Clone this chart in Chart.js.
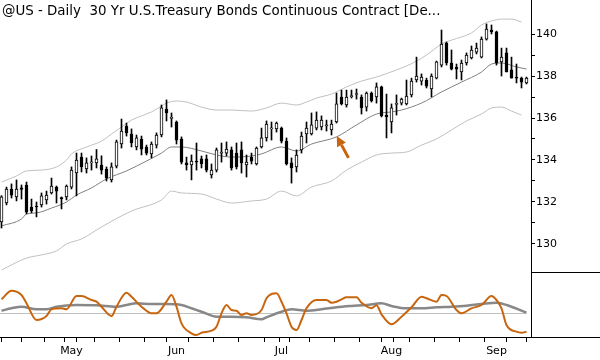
<!DOCTYPE html>
<html>
<head>
<meta charset="utf-8">
<script src="https://cdn.jsdelivr.net/npm/chart.js@4"></script>
<style>
  html, body { margin: 0; padding: 0; background: #fff; }
  #wrap { width: 600px; height: 360px; }
</style>
</head>
<body>
<div id="wrap"><canvas id="chart" width="600" height="360"></canvas></div>
<script>
// daily bars, Apr 10 - Sep 10 2014 (trading days only)
const days = [
  '04-10','04-11','04-14','04-15','04-16','04-17','04-21','04-22','04-23','04-24','04-25','04-28','04-29','04-30',
  '05-01','05-02','05-05','05-06','05-07','05-08','05-09','05-12','05-13','05-14','05-15','05-16',
  '05-19','05-20','05-21','05-22','05-23','05-27','05-28','05-29','05-30',
  '06-02','06-03','06-04','06-05','06-06','06-09','06-10','06-11','06-12','06-13',
  '06-16','06-17','06-18','06-19','06-20','06-23','06-24','06-25','06-26','06-27','06-30',
  '07-01','07-02','07-03','07-07','07-08','07-09','07-10','07-11','07-14','07-15','07-16','07-17','07-18',
  '07-21','07-22','07-23','07-24','07-25','07-28','07-29','07-30','07-31',
  '08-01','08-04','08-05','08-06','08-07','08-08','08-11','08-12','08-13','08-14','08-15',
  '08-18','08-19','08-20','08-21','08-22','08-25','08-26','08-27','08-28','08-29',
  '09-02','09-03','09-04','09-05','09-08','09-09','09-10'
];

const open = [131.05,131.95,132.62,132.24,132.67,132.81,131.76,131.8,131.86,132.1,132.43,132.71,132.2,132.24,
  132.71,133.38,134.14,133.57,133.86,133.86,133.76,133.57,133.05,133.71,134.76,135.62,135.24,134.62,135.0,134.62,
  134.29,134.71,135.19,136.43,135.98,135.81,135.0,133.86,133.76,133.95,134.05,134.05,133.29,133.52,134.33,134.33,
  134.48,134.33,134.48,133.76,134.14,133.81,134.62,135.05,135.48,135.48,135.52,134.9,133.86,133.67,134.48,135.24,
  135.24,135.52,135.57,135.62,135.43,135.81,137.0,136.62,137.02,137.12,137.0,136.52,137.19,137.0,137.48,136.14,
  135.81,136.65,136.71,136.67,137.1,137.81,137.76,137.81,137.38,137.9,138.52,139.57,138.62,138.43,138.19,138.62,
  138.86,139.14,138.9,139.76,140.19,140.1,138.67,139.1,138.29,137.95,137.9,137.67];
const high = [132.3,132.71,132.86,133.05,132.81,132.95,132.14,132.0,132.43,132.52,133.14,132.76,132.24,132.81,
  133.67,134.33,134.33,134.1,134.19,134.5,134.2,133.67,133.86,134.95,135.95,135.76,135.48,135.19,135.14,134.71,
  134.86,135.29,136.62,136.86,136.24,135.86,135.1,134.14,134.24,134.81,134.19,134.24,133.81,134.57,134.81,134.86,
  134.62,134.81,134.86,134.24,134.33,134.62,135.52,135.86,135.81,135.81,135.57,135.05,134.1,134.48,135.33,135.81,
  136.24,136.29,136.1,135.9,135.9,137.19,137.33,137.33,137.33,137.38,137.1,137.24,137.24,137.67,137.52,137.14,
  136.67,137.1,136.95,137.81,137.9,138.9,138.1,137.9,138.1,138.71,140.19,139.62,139.24,138.57,138.76,139.1,
  139.43,139.57,139.86,140.48,140.43,140.14,139.33,139.33,138.9,138.57,137.95,137.95];
const low = [130.76,131.86,132.19,132.05,132.14,131.43,131.48,131.29,131.76,131.9,132.38,131.95,131.67,132.1,
  132.62,132.29,133.43,133.38,133.52,133.62,133.33,133.0,132.95,133.62,134.57,135.14,134.62,134.48,134.24,134.24,
  134.1,134.57,135.1,135.86,135.57,134.76,133.81,133.52,133.05,133.52,133.62,133.43,133.14,133.43,133.9,134.19,
  133.52,133.57,133.38,133.19,133.81,133.76,134.57,134.9,134.95,135.33,134.81,133.76,132.9,133.43,134.33,134.81,
  135.19,135.43,135.43,135.38,135.19,135.76,136.62,136.52,136.95,136.9,136.19,136.33,136.76,136.71,136.05,135.05,
  135.29,136.14,136.62,136.62,137.0,137.71,137.57,137.43,137.0,137.86,138.43,138.52,138.29,137.86,137.81,138.52,
  138.81,139.05,138.86,139.71,140.0,138.52,138.0,138.19,137.9,137.67,137.43,137.62];
const close = [132.24,132.62,132.33,132.62,132.6,131.52,131.57,131.76,132.29,132.33,132.76,132.52,132.16,132.76,
  133.52,134.0,133.67,133.86,133.9,134.05,133.52,133.14,133.67,134.86,135.38,135.29,134.81,135.05,134.52,134.33,
  134.76,135.19,136.48,136.24,136.03,134.95,133.9,133.76,133.95,133.9,133.81,133.52,133.52,134.48,134.38,134.52,
  133.62,133.67,133.86,133.9,133.95,134.57,135.05,135.71,135.52,135.76,134.9,133.81,133.62,134.24,135.14,135.52,
  135.67,135.9,135.9,135.67,135.71,136.67,136.67,137.0,137.06,137.16,136.48,137.19,136.81,137.48,136.1,136.05,
  136.48,136.69,136.9,137.05,137.76,138.0,137.95,137.52,138.0,138.67,139.52,138.62,138.33,138.33,138.62,139.0,
  139.24,139.33,139.76,140.24,140.1,138.62,138.9,138.19,137.9,137.9,137.71,137.9];

// channel lines, read at bar positions
const maBar = [0,4,5,7,10,13,15,18,21,25,29,32,34,36,40,43,46,50,52,56,59,62,67,71,75,78,80,84,88,92,96,98,100,103,105];
const ma = [130.86,131.19,131.43,131.48,131.71,132.0,132.33,132.67,133.1,133.48,133.95,134.33,134.62,134.62,134.43,
  134.24,134.14,134.19,134.29,134.62,134.43,134.76,135.1,135.67,136.19,136.29,136.38,136.71,137.24,137.71,138.19,
  138.57,138.62,138.43,138.33];
const upperBar = [0,3,5,8,11,13,14,17,20,22,24,26,28,30,32,33,35,37,40,43,46,50,53,56,59,61,63,66,69,72,75,79,81,83,
  85,88,90,92,94,96,98,100,102,104];
const upper = [132.95,133.24,133.48,133.52,133.67,134.0,134.29,134.62,134.9,135.24,135.57,135.9,136.1,136.29,136.57,
  136.71,136.81,136.76,136.52,136.38,136.38,136.33,136.48,136.71,136.62,136.76,136.95,137.14,137.48,137.76,137.95,
  138.29,138.48,138.71,139.0,139.52,139.71,139.86,140.05,140.43,140.62,140.71,140.71,140.57];
const lowerBar = [0,5,8,11,13,16,20,26,32,34,36,40,43,46,50,53,56,59,62,66,69,72,75,78,81,84,87,90,93,96,98,100,102,104];
const lower = [128.76,129.33,129.48,129.67,130.0,130.24,130.81,131.57,132.1,132.52,132.43,132.38,132.14,131.95,132.05,
  132.14,132.52,132.29,132.71,133.0,133.52,133.9,134.24,134.33,134.38,134.71,135.0,135.43,135.86,136.19,136.48,
  136.52,136.33,136.14];

// lower pane oscillator
const fastBar = [0,2,4,5,7,9,10,12,13,15,16,18,19,20,22,23,25,26,28,30,31,33,34,35,36,38,39,40,42,43,44,45,46,47,48,
  49,50,52,53,54,55,56,57,58,59,60,61,63,65,66,67,68,69,71,72,74,75,76,78,80,82,84,85,87,88,89,91,92,94,96,98,99,
  100,101,103,104,105];
const fast = [14,22.6,18.3,10,-6.7,-2.7,4,5,4,17.3,17.3,13.3,11.6,6.6,-2.7,6.6,20.6,16.6,6.6,0,0,11.6,18.3,6.6,-10,
  -20,-21.7,-19.4,-17.4,-13.4,0,8.3,3.3,2.6,-1.7,0,-1.7,3.3,15,19.3,20,11.6,0,-13.4,-16.7,-6.7,5,13.3,13.3,10.6,11.6,
  14,16,16,10.6,5,8,-1,-11,-3.4,6,16.6,15,11.6,18.3,17.3,3.3,0,5,8.3,17.3,13.3,5,-11.7,-18.4,-19.4,-18.4];
const slowBar = [0,2,4,7,9,11,15,19,23,25,27,30,33,36,38,40,43,46,49,52,53,56,58,61,64,67,70,73,76,78,81,84,87,90,93,
  96,99,102,105];
const slow = [2.6,5,6.6,4,4,6.6,8.3,8,6.6,8.3,10,9.3,9.3,8.3,5,1.6,-3.4,-3.4,-4,-6,-4,1.6,4,2.6,4,6,7.3,8.3,10,7.3,5,
  5,6,6.6,7.6,9.3,10.6,6.6,0.6];

const priceTicks = [130,131,132,133,134,135,136,137,138,139,140];
const monthNames = ['Jan','Feb','Mar','Apr','May','Jun','Jul','Aug','Sep','Oct','Nov','Dec'];
const title = '@US - Daily  30 Yr U.S.Treasury Bonds Continuous Contract [De...';
const arrowTail = { bar: 69.4, price: 134.1 };
const arrowTip = { bar: 67.05, price: 135.14 };

// weekly and monthly tick positions from the dates
const dates = days.map(d => new Date(2014, +d.slice(0, 2) - 1, +d.slice(3)));
const monthAt = {};
const xTicks = [];
dates.forEach((d, i) => {
  if (i === 0) return;
  const prev = dates[i - 1];
  const newMonth = d.getMonth() !== prev.getMonth();
  const newWeek = d.getDay() <= prev.getDay();
  if (newMonth) monthAt[i] = monthNames[d.getMonth()];
  if (newMonth || newWeek) xTicks.push(i);
});

const ORANGE = '#c8650f';
const axisFont = { family: 'DejaVu Sans', size: 11 };
const pts = (xs, ys) => xs.map((x, k) => ({ x: x, y: ys[k] }));
const bars = days.map((d, i) => i);

const extras = {
  id: 'extras',
  beforeDatasetsDraw(chart) {
    const ctx = chart.ctx, a = chart.chartArea;
    const x = chart.scales.x, y2 = chart.scales.y2;
    const zy = Math.round(y2.getPixelForValue(0)) + 0.5;
    ctx.save();
    ctx.strokeStyle = '#c0c0c0';
    ctx.lineWidth = 1;
    ctx.beginPath();
    ctx.moveTo(a.left, zy);
    ctx.lineTo(x.getPixelForValue(days.length - 1), zy);
    ctx.stroke();
    ctx.restore();
  },
  afterDraw(chart) {
    const ctx = chart.ctx, a = chart.chartArea;
    const x = chart.scales.x, y = chart.scales.y;
    ctx.save();
    // frame pieces on the right pane
    ctx.strokeStyle = '#000';
    ctx.lineWidth = 1;
    ctx.beginPath();
    ctx.moveTo(a.right, a.bottom + 0.5);
    ctx.lineTo(chart.width, a.bottom + 0.5);
    ctx.moveTo(a.right, a.bottom - 64.5);
    ctx.lineTo(chart.width, a.bottom - 64.5);
    ctx.stroke();

    // arrow
    const x0 = x.getPixelForValue(arrowTail.bar), y0 = y.getPixelForValue(arrowTail.price);
    const x1 = x.getPixelForValue(arrowTip.bar), y1 = y.getPixelForValue(arrowTip.price);
    const ang = Math.atan2(y1 - y0, x1 - x0);
    const head = 10, hw = 5;
    const bx = x1 - head * Math.cos(ang), by = y1 - head * Math.sin(ang);
    ctx.strokeStyle = ORANGE;
    ctx.fillStyle = ORANGE;
    ctx.lineWidth = 3;
    ctx.beginPath();
    ctx.moveTo(x0, y0);
    ctx.lineTo(bx, by);
    ctx.stroke();
    ctx.beginPath();
    ctx.moveTo(x1, y1);
    ctx.lineTo(bx + hw * Math.sin(ang), by - hw * Math.cos(ang));
    ctx.lineTo(bx - hw * Math.sin(ang), by + hw * Math.cos(ang));
    ctx.closePath();
    ctx.fill();

    // title
    ctx.fillStyle = '#000';
    ctx.font = '13.4px "DejaVu Sans"';
    ctx.textBaseline = 'alphabetic';
    ctx.fillText(title, 2, 15);
    ctx.restore();
  }
};

new Chart(document.getElementById('chart'), {
  type: 'bar',
  data: {
    datasets: [
      {
        label: 'body', order: 1, grouped: false,
        data: bars.map(i => ({ x: i, y: [open[i], close[i]] })),
        backgroundColor: bars.map(i => close[i] >= open[i] ? '#fff' : '#000'),
        borderColor: '#000', borderWidth: 1, borderSkipped: false,
        barThickness: 3, minBarLength: 1
      },
      {
        label: 'wick', order: 2, grouped: false,
        data: bars.map(i => ({ x: i, y: [low[i], high[i]] })),
        backgroundColor: '#000', barThickness: 1
      },
      {
        type: 'line', label: 'ma', order: 3, data: pts(maBar, ma),
        borderColor: '#808080', borderWidth: 1, pointRadius: 0, cubicInterpolationMode: 'monotone'
      },
      {
        type: 'line', label: 'upper', order: 4, data: pts(upperBar, upper),
        borderColor: '#c0c0c0', borderWidth: 1, pointRadius: 0, cubicInterpolationMode: 'monotone'
      },
      {
        type: 'line', label: 'lower', order: 4, data: pts(lowerBar, lower),
        borderColor: '#c0c0c0', borderWidth: 1, pointRadius: 0, cubicInterpolationMode: 'monotone'
      },
      {
        type: 'line', label: 'slow', order: 6, yAxisID: 'y2', data: pts(slowBar, slow),
        borderColor: '#888888', borderWidth: 2.5, pointRadius: 0, cubicInterpolationMode: 'monotone'
      },
      {
        type: 'line', label: 'fast', order: 5, yAxisID: 'y2', data: pts(fastBar, fast),
        borderColor: ORANGE, borderWidth: 2, pointRadius: 0, cubicInterpolationMode: 'monotone'
      }
    ]
  },
  options: {
    responsive: false,
    animation: false,
    events: [],
    layout: { padding: 0 },
    plugins: { legend: { display: false }, tooltip: { enabled: false } },
    scales: {
      x: {
        type: 'linear', min: -0.3, max: 105.9, offset: false,
        border: { color: '#000' },
        grid: { drawOnChartArea: false, tickLength: 5, color: '#000' },
        ticks: {
          autoSkip: false, maxRotation: 0, padding: 3, color: '#000', font: axisFont,
          callback: v => monthAt[v] || ''
        },
        afterBuildTicks: s => { s.ticks = xTicks.map(v => ({ value: v })); },
        afterFit: s => { s.height = 23; s.paddingLeft = 0; s.paddingRight = 0; }
      },
      y: {
        type: 'linear', position: 'right', min: 125.57, max: 141.62,
        border: { color: '#000' },
        grid: { drawOnChartArea: false, tickLength: 4, color: '#000' },
        ticks: {
          padding: 1, color: '#000', font: axisFont,
          callback: v => (v % 2 === 0 ? String(v) : '')
        },
        afterBuildTicks: s => { s.ticks = priceTicks.map(v => ({ value: v })); },
        afterFit: s => { s.width = 69; s.paddingTop = 0; s.paddingBottom = 0; }
      },
      y2: { type: 'linear', display: false, min: -23.7, max: 313.3 }
    }
  },
  plugins: [extras]
});
</script>
</body>
</html>
